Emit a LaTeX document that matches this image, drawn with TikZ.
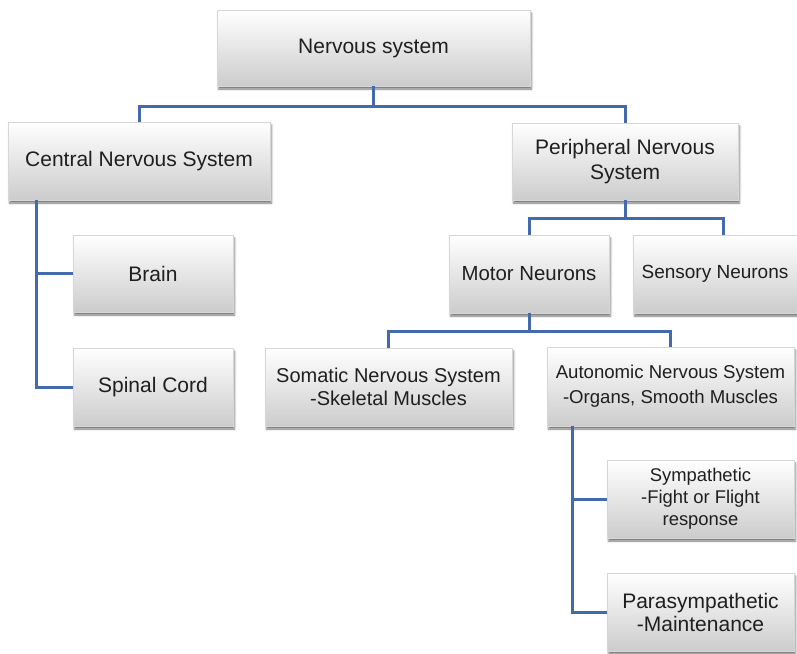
\documentclass[tikz,border=0pt]{standalone}
\usepackage{fontspec}
\setmainfont{Liberation Sans}
\usetikzlibrary{shadows.blur}
\definecolor{linkblue}{RGB}{66,106,172}
\definecolor{boxbot}{RGB}{204,204,204}
\definecolor{boxedge}{RGB}{215,215,215}
\begin{document}
\begin{tikzpicture}[x=1pt,y=-1pt,
  box/.style={rectangle, draw=boxedge, line width=0.4pt,
    top color=white, bottom color=boxbot,
    align=center, inner sep=0pt, text=black!88,
    font=\fontsize{21}{24}\selectfont,
    blur shadow={shadow xshift=1.5pt, shadow yshift=-3pt,
                 shadow blur radius=2pt, shadow opacity=55}},
  link/.style={draw=linkblue, line width=3pt, line join=miter}]
\useasboundingbox (0,0) rectangle (797,653);

% boxes
\node[box, minimum width=313pt, minimum height=76pt] (ns) at (373.5,48) {Nervous system};
\node[box, minimum width=262pt, minimum height=78pt] (cns) at (139,161) {Central Nervous System};
\node[box, minimum width=226pt, minimum height=77pt, font=\fontsize{21}{25}\selectfont] (pns) at (625,161.5) {Peripheral Nervous\\System};
\node[box, minimum width=160pt, minimum height=77pt] (brain) at (153,273.5) {Brain};
\node[box, minimum width=160pt, minimum height=78pt] (spinal) at (153,387) {Spinal Cord};
\node[box, minimum width=160pt, minimum height=78pt, font=\fontsize{20.4}{24}\selectfont] (motor) at (529,274) {Motor Neurons};
\node[box, minimum width=164pt, minimum height=78pt, font=\fontsize{19}{23}\selectfont] (sensory) at (715,274) {Sensory Neurons};
\node[box, minimum width=247pt, minimum height=78pt, font=\fontsize{20}{23}\selectfont] (somatic) at (388.5,387) {Somatic Nervous System\\-Skeletal Muscles};
\node[box, minimum width=247pt, minimum height=79pt, font=\fontsize{18.6}{25}\selectfont] (auto) at (670.5,386.5) {Autonomic Nervous System\\-Organs, Smooth Muscles};
\node[box, minimum width=187pt, minimum height=78pt, font=\fontsize{18.4}{22}\selectfont] (symp) at (700.5,499) {Sympathetic\\-Fight or Flight\\response};
\node[box, minimum width=187pt, minimum height=78pt, font=\fontsize{21}{23}\selectfont] (para) at (700.5,612) {Parasympathetic\\-Maintenance};

% connectors
\coordinate (cnsx) at (36,0);
\coordinate (autox) at (572,0);

\draw[link] (ns.south) -- ++(0,20) coordinate (j1);
\draw[link] (cns.north) |- (j1) -| (pns.north);

\draw[link] (cns.south -| cnsx) |- (spinal.west);
\draw[link] (cns.south -| cnsx) |- (brain.west);

\draw[link] (pns.south) -- ++(0,18) coordinate (j2);
\draw[link] (motor.north) |- (j2) -| ([xshift=8pt]sensory.north);

\draw[link] (motor.south) -- ++(0,18) coordinate (j3);
\draw[link] (somatic.north) |- (j3) -| (auto.north);

\draw[link] (auto.south -| autox) |- (para.west);
\draw[link] (auto.south -| autox) |- (symp.west);
\end{tikzpicture}
\end{document}
